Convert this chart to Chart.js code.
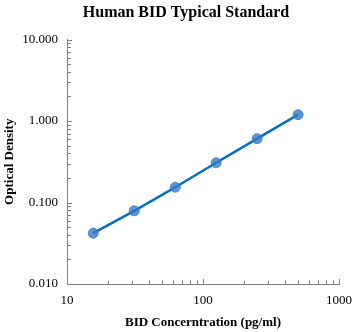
<!DOCTYPE html>
<html lang="en">
<head>
    <meta charset="UTF-8">
    <title>Human BID Typical Standard</title>
    <script src="https://cdn.jsdelivr.net/npm/chart.js"></script>
    <style>
        html, body { margin: 0; padding: 0; background: #ffffff; }
        #wrap { width: 354px; height: 332px; }
    </style>
</head>
<body>
    <div id="wrap"><canvas id="curve"></canvas></div>
    <script>
        // standard curve data
        var concentration = [15.6, 31.25, 62.5, 125, 250, 500];
        var density = [0.042, 0.079, 0.154, 0.307, 0.607, 1.195];
        var xTicks = [10, 100, 1000];
        var yTicks = [0.01, 0.1, 1, 10];

        var axisGray = '#808080';
        var serif = '"Liberation Serif", "Times New Roman", serif';

        // minor tick positions (1..9 per decade)
        function decadeTicks(list) {
            var out = [];
            for (var i = 0; i < list.length - 1; i++) {
                for (var k = 1; k < 10; k++) out.push({ v: list[i] * k, major: k === 1 });
            }
            out.push({ v: list[list.length - 1], major: true });
            return out;
        }

        // ticks pointing into the plot, like the original
        var innerTicks = {
            id: 'innerTicks',
            afterDraw: function (chart) {
                var ctx = chart.ctx, xs = chart.scales.x, ys = chart.scales.y;
                ctx.save();
                ctx.strokeStyle = axisGray;
                ctx.lineWidth = 1;
                ctx.beginPath();
                decadeTicks(yTicks).forEach(function (t) {
                    var py = Math.round(ys.getPixelForValue(t.v)) + 0.5;
                    ctx.moveTo(xs.left, py);
                    ctx.lineTo(xs.left + (t.major ? 5 : 4), py);
                });
                decadeTicks(xTicks).forEach(function (t) {
                    if (t.v === xTicks[0]) return;
                    var px = Math.round(xs.getPixelForValue(t.v)) + 0.5;
                    ctx.moveTo(px, ys.bottom);
                    ctx.lineTo(px, ys.bottom - (t.major ? 5 : 3.5));
                });
                ctx.stroke();

                // chart title
                ctx.fillStyle = '#000';
                ctx.font = 'bold 16px ' + serif;
                ctx.textAlign = 'center';
                ctx.textBaseline = 'middle';
                ctx.fillText('Human BID Typical Standard', 186, 13);
                ctx.restore();
            }
        };

        var ctx = document.getElementById('curve').getContext('2d');
        new Chart(ctx, {
            type: 'scatter',
            data: {
                datasets: [{
                    data: concentration.map(function (c, i) { return { x: c, y: density[i] }; }),
                    showLine: true,
                    borderColor: '#0070C0',
                    borderWidth: 2.5,
                    pointRadius: 5,
                    pointBackgroundColor: 'rgba(56,120,198,0.8)',
                    pointBorderColor: 'rgba(56,120,198,0.8)',
                    pointBorderWidth: 1
                }]
            },
            options: {
                responsive: true,
                maintainAspectRatio: false,
                animation: false,
                layout: { padding: { top: 39.5, right: 15, left: 0, bottom: 0 } },
                plugins: { legend: { display: false }, tooltip: { enabled: false } },
                scales: {
                    x: {
                        type: 'logarithmic',
                        min: 10,
                        max: 1000,
                        grid: { display: false, drawTicks: false },
                        border: { display: true, color: axisGray, width: 1 },
                        afterBuildTicks: function (s) { s.ticks = xTicks.map(function (v) { return { value: v }; }); },
                        afterFit: function (s) { s.height = 48; s.paddingLeft = 0; s.paddingRight = 0; },
                        ticks: {
                            padding: 9,
                            autoSkip: false,
                            maxRotation: 0,
                            color: '#000',
                            font: { family: serif, size: 13 },
                            callback: function (v) { return String(v); }
                        },
                        title: {
                            display: true,
                            text: 'BID Concerntration (pg/ml)',
                            color: '#000',
                            font: { family: serif, size: 13, weight: 'bold' },
                            padding: { top: 0, bottom: 1.5 }
                        }
                    },
                    y: {
                        type: 'logarithmic',
                        min: 0.01,
                        max: 10,
                        grid: { display: false, drawTicks: false },
                        border: { display: true, color: axisGray, width: 1 },
                        afterBuildTicks: function (s) { s.ticks = yTicks.map(function (v) { return { value: v }; }); },
                        afterFit: function (s) { s.width = 67; s.paddingTop = 0; s.paddingBottom = 0; },
                        ticks: {
                            padding: 9,
                            autoSkip: false,
                            color: '#000',
                            font: { family: serif, size: 13 },
                            callback: function (v) { return Number(v).toFixed(3); }
                        },
                        title: {
                            display: true,
                            text: 'Optical Density',
                            color: '#000',
                            font: { family: serif, size: 13, weight: 'bold' },
                            padding: { top: 2, bottom: 0 }
                        }
                    }
                }
            },
            plugins: [innerTicks]
        });
    </script>
</body>
</html>
